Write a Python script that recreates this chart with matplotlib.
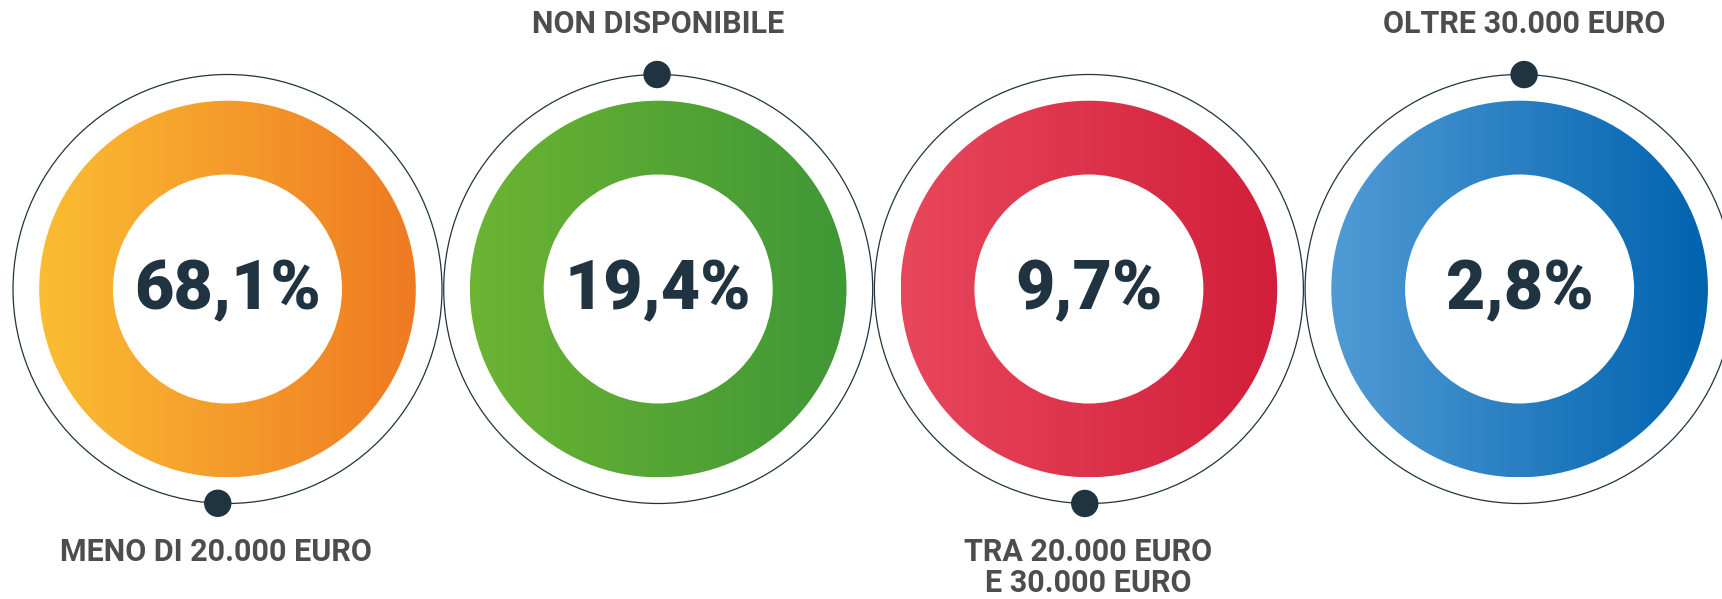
import numpy as np
import matplotlib
matplotlib.use('Agg')
import matplotlib.pyplot as plt
from matplotlib.patches import Wedge, Circle
from matplotlib.colors import LinearSegmentedColormap

# data
categories = ['MENO DI 20.000 EURO', 'NON DISPONIBILE',
              'TRA 20.000 EURO\nE 30.000 EURO', 'OLTRE 30.000 EURO']
values = [68.1, 19.4, 9.7, 2.8]

# styles
grad_left = ['#fbbd33', '#6cb433', '#e8475c', '#519bd5']
grad_right = ['#ef7a22', '#3f9736', '#d21e3a', '#0063ae']
dot_angle = [182.6, -0.3, 181.1, 1.2]   # degrees clockwise from top
label_top = [False, True, False, True]
label_x = [216, 658, 1088, 1524]

navy = '#1f3440'
grey = '#4d4d4d'

W, H = 1722, 599
fig = plt.figure(figsize=(W / 100, H / 100), dpi=100)
ax = fig.add_axes([0, 0, 1, 1])
ax.set_xlim(0, W)
ax.set_ylim(H, 0)
ax.set_aspect('equal')
ax.axis('off')

cx0, step, cy = 227.5, 430.7, 289
R_out, R_ring, r_in = 214.5, 188.3, 114.5
grad = np.linspace(0, 1, 256).reshape(1, -1)

for i, (cat, v) in enumerate(zip(categories, values)):
    cx = cx0 + i * step
    # thin outer circle
    ax.add_patch(Circle((cx, cy), R_out, fill=False, ec=navy, lw=0.9, zorder=2))
    # gradient ring
    cmap = LinearSegmentedColormap.from_list('g%d' % i, [grad_left[i], grad_right[i]])
    im = ax.imshow(grad, cmap=cmap, aspect='auto', interpolation='bicubic',
                   extent=(cx - R_ring, cx + R_ring, cy + R_ring, cy - R_ring), zorder=1)
    ring = Wedge((cx, cy), R_ring, 0, 360, width=R_ring - r_in, transform=ax.transData)
    im.set_clip_path(ring)
    # dot on the outer circle
    a = np.deg2rad(dot_angle[i])
    dx, dy = cx + R_out * np.sin(a), cy - R_out * np.cos(a)
    ax.add_patch(Circle((dx, dy), 13, color=navy, zorder=3))
    # value
    txt = ('%.1f' % v).replace('.', ',') + '%'
    ax.text(cx, cy + 2, txt, ha='center', va='center', fontsize=49,
            fontweight='black', family=['Roboto', 'DejaVu Sans'], color=navy, zorder=4)
    # category label
    if label_top[i]:
        ax.text(label_x[i], 24, cat, ha='center', va='center', fontsize=22,
                fontweight='bold', family=['Roboto', 'DejaVu Sans'], color=grey)
    else:
        ax.text(label_x[i], 537, cat, ha='center', va='top', fontsize=22,
                fontweight='bold', family=['Roboto', 'DejaVu Sans'], color=grey,
                linespacing=1.05)

fig.savefig('out.png', dpi=100, facecolor='white')
